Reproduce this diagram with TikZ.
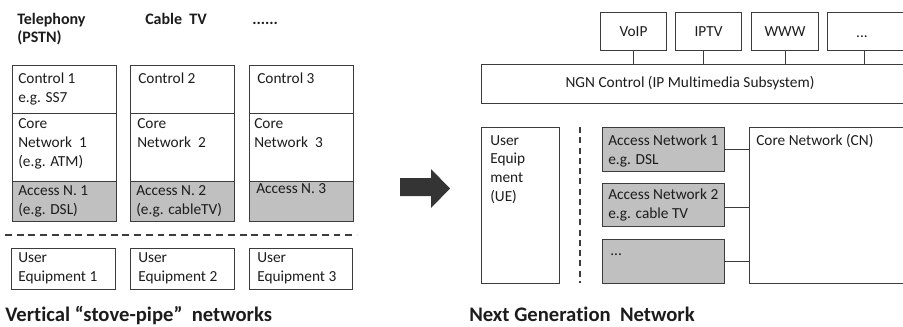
\documentclass[tikz,border=0pt]{standalone}
\usepackage{fontspec}
\setmainfont{Carlito}[Ligatures=NoCommon]
\usepackage{tikz}
\usetikzlibrary{positioning}
\definecolor{boxline}{RGB}{60,60,60}
\definecolor{accfill}{RGB}{192,192,192}
\definecolor{txtcol}{RGB}{28,28,28}
\definecolor{arrowfill}{RGB}{52,52,52}
\pgfdeclarelayer{nodelayer}
\pgfdeclarelayer{edgelayer}
\pgfsetlayers{edgelayer,nodelayer,main}
\tikzset{box/.style 2 args={draw=boxline, line width=0.8pt, anchor=north west, inner sep=0pt,
minimum width=#1*0.75pt, minimum height=#2*0.75pt, text=txtcol, font=\fontsize{11.5}{14.25}\selectfont}}
\tikzset{acc/.style={fill=accfill}}
\tikzset{txt/.style={anchor=base west, align=left, inner sep=0pt, text=txtcol,
font=\fontsize{11.5}{14.25}\selectfont}}
\tikzset{head/.style={anchor=base west, align=left, inner sep=0pt, text=txtcol,
font=\fontsize{12}{13.5}\selectfont\bfseries}}
\tikzset{title/.style={anchor=base west, inner sep=0pt, text=txtcol,
font=\fontsize{15.5}{18}\selectfont\bfseries}}
\tikzset{conn/.style={draw=boxline, line width=0.75pt}}

\begin{document}
\begin{tikzpicture}[x=0.75pt, y=-0.75pt]
    \useasboundingbox (0,0) rectangle (903,326);
    			\begin{pgfonlayer}{nodelayer}
    				% stove-pipe columns
    				\node [box={104}{48}] (ctl1) at (12, 65) {};
    				\node [box={104}{68}] (core1) at (12, 113) {};
    				\node [box={104}{40}, acc] (acc1) at (12, 181) {};
    				\node [box={104}{48}] (ctl2) at (130, 65) {};
    				\node [box={104}{68}] (core2) at (130, 113) {};
    				\node [box={104}{40}, acc] (acc2) at (130, 181) {};
    				\node [box={104}{48}] (ctl3) at (249, 65) {};
    				\node [box={104}{68}] (core3) at (249, 113) {};
    				\node [box={104}{40}, acc] (acc3) at (249, 181) {};
    				\node [box={104}{41}] (ue1) at (11, 248) {};
    				\node [box={104}{41}] (ue2) at (130, 248) {};
    				\node [box={103}{41}] (ue3) at (249, 248) {};
    				% NGN
    				\node [box={66}{38}] (voip) at (600, 12) {VoIP};
    				\node [box={66}{38}] (iptv) at (675, 12) {IPTV};
    				\node [box={67}{38}] (www) at (751, 12) {WWW};
    				\node [box={82}{38}] (more) at (827, 12) {};
    				\node [box={430}{39}] (ngn) at (481, 64) {};
    				\node [box={78}{156}] (ue) at (481, 127) {};
    				\node [box={122}{44}, acc] (an1) at (602, 127) {};
    				\node [box={122}{43}, acc] (an2) at (602, 183) {};
    				\node [box={122}{44}, acc] (an3) at (602, 239) {};
    				\node [box={162}{156}] (cn) at (749, 127) {};
    			\end{pgfonlayer}
    			\begin{pgfonlayer}{edgelayer}
    				\coordinate (dl) at (5, 235);
    				\coordinate (dr) at (357, 235);
    				\coordinate (dt) at (580, 127);
    				\coordinate (db) at (580, 283);
    				\draw [boxline, line width=1.4pt, dash pattern=on 5.2pt off 3.6pt] (dl) to (dr);
    				\draw [boxline, line width=1pt, dash pattern=on 4.5pt off 3.2pt] (dt) to (db);
    				\draw [conn] (voip.south) to (voip.south |- ngn.north);
    				\draw [conn] ([xshift=-3.75pt]iptv.south) to ([xshift=-3.75pt]iptv.south |- ngn.north);
    				\draw [conn] (www.south) to (www.south |- ngn.north);
    				\draw [conn] ([xshift=-3pt]more.south) to ([xshift=-3pt]more.south |- ngn.north);
    				\draw [conn] (an1.east) to (an1.east -| cn.west);
    				\draw [conn] ([yshift=-1.9pt]an2.east) to ([yshift=-1.9pt]an2.east -| cn.west);
    				\draw [conn] (an3.east) to (an3.east -| cn.west);
    			\end{pgfonlayer}
    			% texts (placed at the baseline of their last line)
    			\node [head] (hd1) at (17, 42) {Telephony\\(PSTN)};
    			\node [head] (hd2) at (145, 24) {Cable~ TV};
    			\node [head] (hd3) at (252, 24) {......};
    			\node [txt] (t1) at (18, 102) {Control 1\\e.g. SS7};
    			\node [txt] (t2) at (138, 83) {Control 2};
    			\node [txt] (t3) at (257, 83) {Control 3};
    			\node [txt] (t4) at (18, 166) {Core\\Network~ 1\\(e.g. ATM)};
    			\node [txt] (t5) at (137, 147) {Core\\Network~ 2};
    			\node [txt] (t6) at (254, 147) {Core\\Network~ 3};
    			\node [txt] (t7) at (18, 214) {Access N. 1\\(e.g. DSL)};
    			\node [txt] (t8) at (136, 214) {Access N. 2\\(e.g. cableTV)};
    			\node [txt] (t9) at (256, 193) {Access N. 3};
    			\node [txt] (t10) at (18, 281) {User\\Equipment 1};
    			\node [txt] (t11) at (138, 281) {User\\Equipment 2};
    			\node [txt] (t12) at (257, 281) {User\\Equipment 3};
    			\node [txt, anchor=base] (t13) at (862, 37) {...};
    			\node [txt, anchor=base] (t14) at (690, 87) {NGN Control (IP Multimedia Subsystem)};
    			\node [txt, font=\fontsize{11.5}{14}\selectfont] (t15) at (490, 201) {User\\Equip\\ment\\(UE)};
    			\node [txt] (t16) at (608, 164) {Access Network 1\\e.g. DSL};
    			\node [txt] (t17) at (608, 218) {Access Network 2\\e.g. cable TV};
    			\node [txt] (t18) at (610, 255) {...};
    			\node [txt] (t19) at (756, 145) {Core Network (CN)};
    			\node [title] (ttl1) at (5, 321) {Vertical “stove-pipe”~ networks};
    			\node [title] (ttl2) at (469, 321) {Next Generation~ Network};
    			% big arrow
    			\fill [arrowfill] (400, 178) -- (431, 178) -- (431, 169) -- (450, 188.5) -- (431, 208) -- (431, 196) -- (400, 196) -- cycle;
\end{tikzpicture}
\end{document}
